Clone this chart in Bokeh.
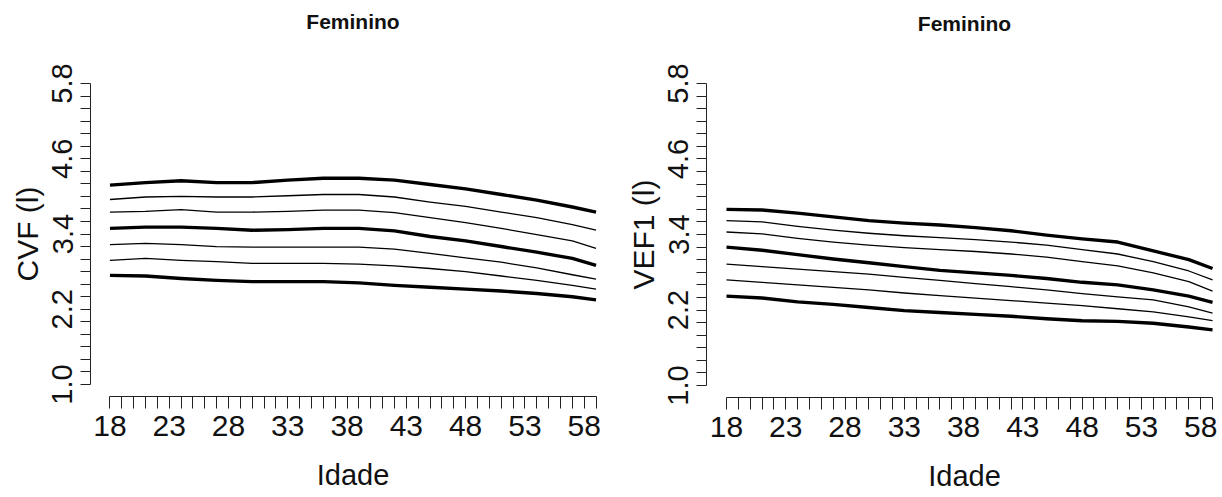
from bokeh.embed import file_html
from bokeh.layouts import row
from bokeh.models import FixedTicker, Range1d
from bokeh.plotting import figure
from bokeh.resources import INLINE

# Age grid (years) at which the percentile curves are tabulated
ages = [18, 21, 24, 27, 30, 33, 36, 39, 42, 45, 48, 51, 54, 57, 59]

# CVF (l), women: percentile curves from highest to lowest
cvf_p95 = [4.18, 4.22, 4.25, 4.22, 4.22, 4.26, 4.29, 4.29, 4.26, 4.19, 4.12, 4.03, 3.94, 3.83, 3.75]
cvf_p90 = [3.95, 3.99, 4.00, 3.99, 3.99, 4.01, 4.03, 4.03, 3.99, 3.91, 3.84, 3.75, 3.66, 3.55, 3.46]
cvf_p75 = [3.75, 3.76, 3.79, 3.75, 3.75, 3.76, 3.78, 3.78, 3.74, 3.66, 3.58, 3.49, 3.39, 3.29, 3.17]
cvf_p50 = [3.49, 3.51, 3.51, 3.49, 3.46, 3.47, 3.49, 3.49, 3.45, 3.36, 3.29, 3.20, 3.11, 3.01, 2.90]
cvf_p25 = [3.23, 3.25, 3.23, 3.20, 3.19, 3.19, 3.19, 3.19, 3.16, 3.09, 3.02, 2.95, 2.86, 2.75, 2.68]
cvf_p10 = [2.98, 3.01, 2.98, 2.96, 2.93, 2.93, 2.93, 2.92, 2.89, 2.85, 2.80, 2.73, 2.66, 2.58, 2.52]
cvf_p05 = [2.74, 2.73, 2.69, 2.66, 2.64, 2.64, 2.64, 2.62, 2.58, 2.55, 2.52, 2.49, 2.45, 2.40, 2.35]

# VEF1 (l), women: percentile curves from highest to lowest
vef1_p95 = [3.80, 3.79, 3.74, 3.68, 3.62, 3.58, 3.55, 3.51, 3.46, 3.39, 3.33, 3.28, 3.14, 3.00, 2.86]
vef1_p90 = [3.62, 3.60, 3.53, 3.47, 3.42, 3.38, 3.35, 3.32, 3.28, 3.23, 3.16, 3.09, 2.97, 2.82, 2.68]
vef1_p75 = [3.44, 3.41, 3.34, 3.28, 3.23, 3.19, 3.16, 3.13, 3.09, 3.04, 2.97, 2.90, 2.79, 2.65, 2.50]
vef1_p50 = [3.20, 3.15, 3.08, 3.01, 2.95, 2.89, 2.83, 2.79, 2.75, 2.70, 2.64, 2.60, 2.52, 2.42, 2.32]
vef1_p25 = [2.93, 2.89, 2.85, 2.81, 2.77, 2.72, 2.67, 2.62, 2.57, 2.52, 2.46, 2.41, 2.36, 2.25, 2.15]
vef1_p10 = [2.68, 2.64, 2.60, 2.56, 2.52, 2.47, 2.43, 2.39, 2.35, 2.31, 2.27, 2.22, 2.17, 2.09, 2.03]
vef1_p05 = [2.42, 2.39, 2.33, 2.29, 2.24, 2.19, 2.16, 2.13, 2.10, 2.06, 2.03, 2.02, 1.99, 1.93, 1.885]

# Percentile curves drawn heavy (5th, 50th, 95th) vs light
heavy = [True, False, False, True, False, False, True]

# Axis ticks: one per year of age, labels every 5 years; y ticks every 0.2 l, labels every 1.2 l
x_ticks = list(range(18, 60))
x_tick_labels = {a: (str(a) if (a - 18) % 5 == 0 else "") for a in x_ticks}
y_ticks = [round(1.0 + 0.2 * i, 1) for i in range(25)]
y_tick_labels = {t: (f"{t:.1f}" if i % 6 == 0 else "") for i, t in enumerate(y_ticks)}

title_text = "Feminino"
x_label_text = "Idade"

FONT = "Liberation Sans"
INK = "#111111"
AXIS = "#222222"


def panel(curves, y_label, geom):
    left, top, fw, fh, right_pad, bottom_pad = geom["frame"]
    p = figure(
        frame_width=fw, frame_height=fh,
        min_border_left=left, min_border_top=top,
        min_border_right=right_pad, min_border_bottom=bottom_pad,
        x_range=Range1d(*geom["xr"]), y_range=Range1d(*geom["yr"]),
        output_backend="svg", toolbar_location=None,
        background_fill_color="white", border_fill_color="white",
    )
    p.outline_line_color = None
    p.grid.visible = False

    p.title.text = title_text
    p.title.align = "center"
    p.title.text_font = FONT
    p.title.text_font_style = "bold"
    p.title.text_font_size = "21px"
    p.title.text_color = INK
    p.title.offset = geom["title_offset"]
    p.title.standoff = 0
    # lift the title well clear of the plotting area
    p.title.padding = dict(left=0, right=0, top=0, bottom=geom["title_lift"])

    for ys, thick in zip(curves, heavy):
        p.line(ages, ys, line_color="black",
               line_width=3.4 if thick else 1.3, line_join="round")

    xa = p.xaxis[0]
    xa.bounds = (18, 59)
    xa.ticker = FixedTicker(ticks=x_ticks)
    xa.major_label_overrides = x_tick_labels
    xa.major_tick_in = 0
    xa.major_tick_out = 12
    xa.minor_tick_in = 0
    xa.minor_tick_out = 0
    xa.major_label_standoff = 7
    xa.major_label_text_font = FONT
    xa.major_label_text_font_size = "30px"
    xa.major_label_text_color = INK
    xa.axis_line_color = AXIS
    xa.major_tick_line_color = AXIS
    xa.axis_label = x_label_text
    xa.axis_label_text_font = FONT
    xa.axis_label_text_font_style = "normal"
    xa.axis_label_text_font_size = "29px"
    xa.axis_label_text_color = INK
    xa.axis_label_standoff = geom["xlabel_standoff"]

    ya = p.yaxis[0]
    ya.bounds = (1.0, 5.8)
    ya.ticker = FixedTicker(ticks=y_ticks)
    ya.major_label_overrides = y_tick_labels
    ya.major_label_orientation = "vertical"
    ya.major_tick_in = 0
    ya.major_tick_out = 10
    ya.minor_tick_in = 0
    ya.minor_tick_out = 0
    ya.major_label_standoff = 8
    ya.major_label_text_font = FONT
    ya.major_label_text_font_size = "29px"
    ya.major_label_text_color = INK
    ya.axis_line_color = AXIS
    ya.major_tick_line_color = AXIS
    ya.axis_label = y_label
    ya.axis_label_text_font = FONT
    ya.axis_label_text_font_style = "normal"
    ya.axis_label_text_font_size = "30px"
    ya.axis_label_text_color = INK
    ya.axis_label_standoff = geom["ylabel_standoff"]
    return p


left_geom = dict(
    frame=(90, 68, 525, 325, 5, 104),
    xr=(16.36, 60.64),
    yr=(0.808, 5.992),
    title_lift=39, title_offset=0,
    xlabel_standoff=20, ylabel_standoff=6,
)
right_geom = dict(
    frame=(86, 71, 516, 326, 0, 100),
    xr=(16.313, 59.84),
    yr=(0.8093, 5.9907),
    title_lift=37, title_offset=5,
    xlabel_standoff=20, ylabel_standoff=6,
)

p_cvf = panel([cvf_p95, cvf_p90, cvf_p75, cvf_p50, cvf_p25, cvf_p10, cvf_p05],
              "CVF (l)", left_geom)
p_vef1 = panel([vef1_p95, vef1_p90, vef1_p75, vef1_p50, vef1_p25, vef1_p10, vef1_p05],
               "VEF1 (l)", right_geom)

layout = row(p_cvf, p_vef1)

open("out.html", "w").write(file_html(layout, INLINE))
